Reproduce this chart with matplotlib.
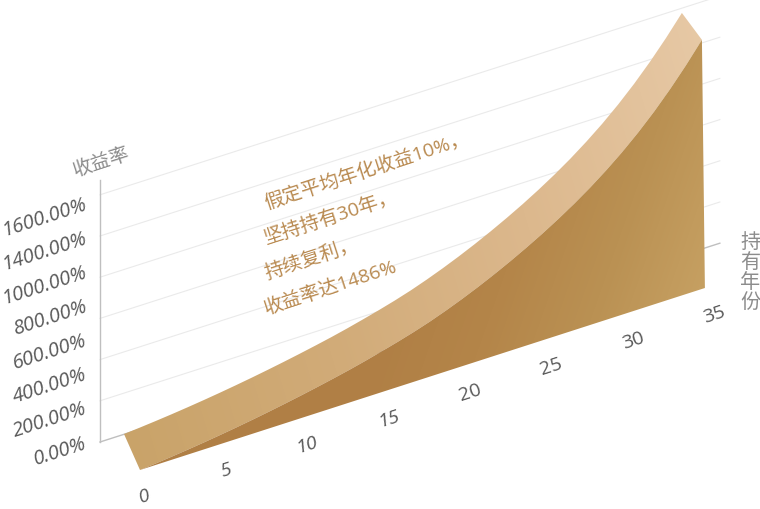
import numpy as np
import matplotlib
matplotlib.use("Agg")
import matplotlib.pyplot as plt
from matplotlib.colors import LinearSegmentedColormap
from matplotlib.patches import Polygon
from matplotlib.transforms import Affine2D

plt.rcParams['font.family'] = ['Open Sans', 'Noto Sans CJK SC', 'DejaVu Sans']

# values
years = list(range(36))
returns = [0, 9, 19, 30, 42, 55, 69, 84, 100, 117, 135, 154, 174, 195, 218, 243, 269, 297,
           328, 363, 401, 442, 486, 533, 583, 636, 693, 754, 820, 892, 970, 1056, 1150,
           1253, 1365, 1486]
grid_levels = [0, 200, 400, 600, 800, 1000, 1200]
axis_top = 1272
y_labels = ['0.00%', '200.00%', '400.00%', '600.00%', '800.00%', '1000.00%', '1400.00%', '1600.00%']
x_ticks = [0, 5, 10, 15, 20, 25, 30, 35]
note_lines = ['假定平均年化收益10%，', '坚持持有30年，', '持续复利，', '收益率达1486%']

GREY_TEXT = '#595959'
TITLE_GREY = '#8c8c8c'
NOTE_COLOR = '#b98a50'
ANGLE = 18

fig = plt.figure(figsize=(7.6, 5.1), dpi=100)
ax = fig.add_axes([0, 0, 1, 1])
ax.set_xlim(0, 760)
ax.set_ylim(510, 0)
ax.axis('off')

# the three skewed planes of the picture: (year, percent) -> pixel
wall = Affine2D.from_values(17.71, -5.68, 0, -0.206, 100, 443)
front = Affine2D.from_values(16.14, -5.2, -0.002, -0.167, 140, 471)
back = Affine2D.from_values(15.94, -4.94, 0, -0.167, 124, 435)

# grid on the back wall
for level in grid_levels[1:]:
    pts = wall.transform([(0, level), (35, level)])
    ax.plot(pts[:, 0], pts[:, 1], color='#eaeaea', lw=0.8, zorder=1)
pts = wall.transform([(0, 0), (0, axis_top)])
ax.plot(pts[:, 0], pts[:, 1], color='#bfbfbf', lw=1, zorder=2)
pts = wall.transform([(0, 0), (35, 0)])
ax.plot(pts[:, 0], pts[:, 1], color='#bfbfbf', lw=1, zorder=2)

data = np.column_stack([years, returns])
front_edge = front.transform(data)
back_edge = back.transform(data)
base_edge = front.transform(np.column_stack([years, np.zeros(len(years))]))

xx, yy = np.meshgrid(np.arange(760), np.arange(510))


def shade(points, colors, direction, vmax_at, zorder):
    # gradient fill clipped to the polygon
    outline = Polygon(points, fc='none', ec='none', zorder=zorder)
    ax.add_patch(outline)
    g = xx * direction[0] + yy * direction[1]
    cmap = LinearSegmentedColormap.from_list('face', colors)
    im = ax.imshow(g, extent=(0, 760, 510, 0), cmap=cmap, aspect='auto',
                   vmin=g[470, 130], vmax=g[vmax_at], zorder=zorder)
    im.set_clip_path(outline)


shade(np.vstack([front_edge, back_edge[::-1]]),
      ['#c9a369', '#d1ab78', '#dcb88d', '#e7c9a6'], (1, -0.3), (40, 710), 3)
shade(np.vstack([base_edge, front_edge[::-1]]),
      ['#b07f45', '#b07f45', '#b07f45', '#b48549', '#ba9153', '#c6a062'], (1, 0.35), (290, 705), 4)

ax.set_xlim(0, 760)
ax.set_ylim(510, 0)

# value labels, evenly stepped like in the picture
for i, label in enumerate(y_labels):
    ax.text(86, 443 - i * 34.1, label, color=GREY_TEXT, fontsize=14.5, style='italic',
            rotation=ANGLE, rotation_mode='anchor', ha='right', va='center', zorder=5)

# year labels
for t in x_ticks:
    x, y = front.transform((t, 0))
    ax.text(x + 4 + t * 0.15, y + 26, str(t), color=GREY_TEXT, fontsize=14,
            style='italic' if t < 20 else 'normal',
            rotation=ANGLE, rotation_mode='anchor', ha='center', va='center', zorder=5)

ax.text(101, 162, '收益率', color=TITLE_GREY, fontsize=14, rotation=ANGLE,
        rotation_mode='anchor', ha='center', va='center', zorder=5)
ax.text(750, 273, '持\n有\n年\n份', color=TITLE_GREY, fontsize=14.5, linespacing=1.0,
        ha='center', va='center', zorder=5)

for line, y in zip(note_lines, [204, 239, 274, 309]):
    ax.text(265, y, line, color=NOTE_COLOR, fontsize=14, rotation=ANGLE,
            rotation_mode='anchor', ha='left', va='center', zorder=5)

fig.savefig('out.png', dpi=100)
